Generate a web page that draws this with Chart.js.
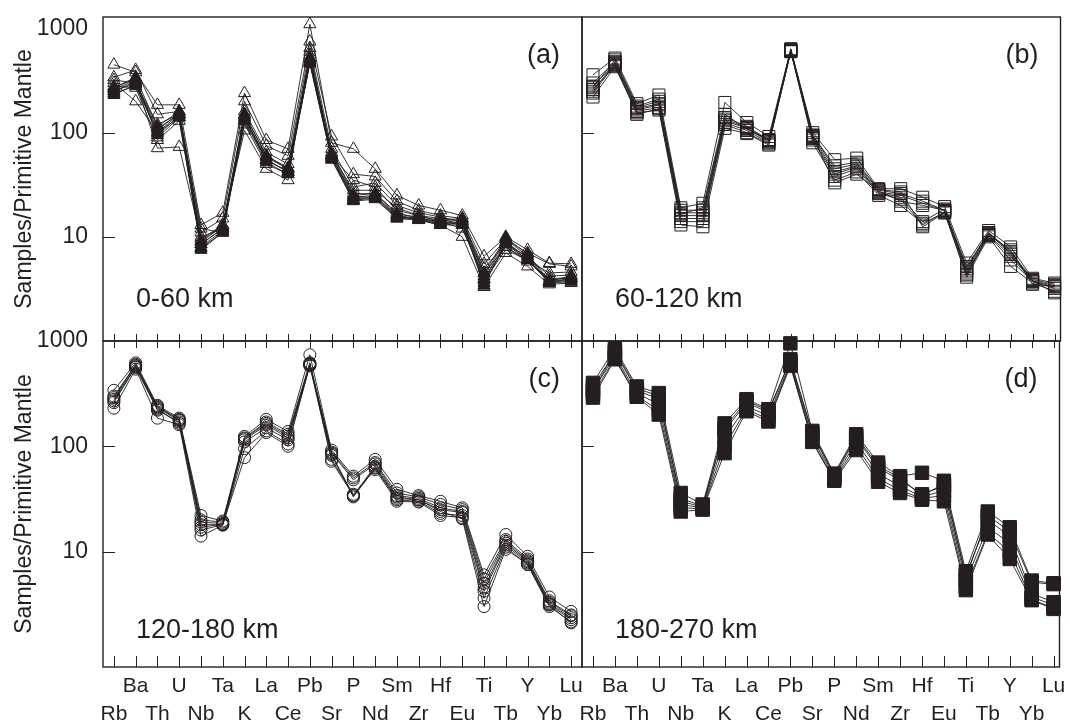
<!DOCTYPE html>
<html>
<head>
<meta charset="utf-8">
<title>Samples / Primitive Mantle spider diagrams</title>
<script src="https://cdn.jsdelivr.net/npm/chart.js@4.4.1/dist/chart.umd.min.js"></script>
<style>
  html, body { margin: 0; padding: 0; background: #fff; }
  #wrap { position: relative; width: 1070px; height: 725px; overflow: hidden; }
  #wrap canvas { position: absolute; left: 0; top: 0; }
</style>
</head>
<body>
<div id="wrap">
  <canvas id="panelA" width="1070" height="725"></canvas>
  <canvas id="panelB" width="1070" height="725"></canvas>
  <canvas id="panelC" width="1070" height="725"></canvas>
  <canvas id="panelD" width="1070" height="725"></canvas>
</div>
<script>
// --- Data (normalised to primitive mantle) ---
const ELEMENTS = ['Rb', 'Ba', 'Th', 'U', 'Nb', 'Ta', 'K', 'La', 'Ce', 'Pb', 'Sr',
                  'P', 'Nd', 'Sm', 'Zr', 'Hf', 'Eu', 'Ti', 'Tb', 'Y', 'Yb', 'Lu'];
const Y_TICKS = [10, 100, 1000];
const Y_TICK_MARKS = [10, 100];
const DEPTHS = ['0-60 km', '60-120 km', '120-180 km', '180-270 km'];
const TAGS = ['(a)', '(b)', '(c)', '(d)'];

// (a) 0-60 km, open triangles
const depth0_60_open = [
    [450, 380, 185, 185, 13, 17, 240, 85, 70, 1100, 80, 70, 45, 25, 20, 18, 16, 6.5, 10, 7.5, 5.6, 5.5],
    [340, 400, 150, 160, 11, 15, 200, 75, 60, 750, 92, 40, 38, 22, 18, 16, 15, 5.5, 9.5, 7, 5.5, 5.2],
    [300, 200, 100, 150, 9, 13, 105, 45, 35, 600, 60, 35, 30, 18, 16, 15, 13, 4.5, 8, 6, 4.5, 4.6],
    [270, 330, 90, 140, 10, 12, 160, 65, 50, 650, 70, 30, 33, 20, 17, 15.5, 14, 5, 8.5, 6.5, 4.2, 4.3],
    [320, 300, 120, 150, 12, 11, 130, 55, 42, 520, 65, 26, 26, 17, 15, 14, 12, 4, 8, 5.8, 4, 4],
    [280, 270, 85, 130, 8.5, 12, 120, 50, 40, 480, 58, 24, 24, 16, 14.5, 13, 10, 3.3, 7, 5.2, 3.5, 3.6],
    [250, 310, 71, 73, 9.5, 13, 150, 60, 45, 560, 62, 28, 28, 19, 16, 14, 13, 3.8, 7.5, 6, 3.8, 4.2]
];
// (a) 0-60 km, filled triangles
const depth0_60_filled = [
    [240, 280, 100, 140, 7.5, 11, 130, 52, 40, 460, 55, 22, 23, 15, 14.5, 13, 13, 3.6, 8.5, 6, 3.7, 3.8],
    [250, 300, 110, 150, 8, 11.5, 140, 55, 42, 480, 58, 23, 24, 15.5, 15, 13.5, 14, 3.9, 9, 6.2, 3.7, 3.9],
    [260, 320, 95, 145, 8.5, 12, 135, 58, 45, 500, 60, 24, 25, 16, 15, 14, 14.5, 4.2, 9.5, 6.5, 3.7, 4],
    [230, 290, 105, 155, 7.8, 11, 145, 54, 43, 470, 56, 22.5, 23.5, 15, 14.8, 13.2, 13.5, 3.4, 8.8, 6, 3.6, 3.7],
    [270, 340, 115, 160, 9, 12.5, 150, 60, 46, 520, 62, 25, 26, 16.5, 15.5, 14.5, 15, 4.5, 9.8, 6.8, 3.8, 4.1]
];
// (b) 60-120 km, open squares
const depth60_120 = [
    [360, 520, 190, 230, 19, 21, 195, 125, 92, 640, 100, 55, 57, 29, 29, 24, 19.5, 5.6, 11.5, 8, 4, 3.6],
    [300, 480, 175, 200, 18, 18, 140, 115, 85, 620, 95, 45, 50, 28, 26, 22, 18, 5, 11, 7.2, 3.9, 3.5],
    [280, 460, 165, 185, 16, 16, 130, 110, 82, 610, 92, 42, 48, 27, 25, 21, 18, 4.8, 10.8, 7, 3.8, 3.4],
    [260, 440, 160, 175, 15, 15, 125, 105, 80, 600, 88, 40, 47, 26.5, 24, 14, 18.5, 4.6, 10.5, 6.5, 3.75, 3.3],
    [240, 450, 150, 170, 14, 14, 120, 100, 78, 600, 85, 38, 45, 26, 23, 13, 17.5, 4.4, 10.3, 6, 3.7, 3.2],
    [220, 430, 155, 165, 13, 12.5, 110, 98, 76, 610, 80, 35, 42, 25, 20, 13.5, 17, 4.1, 10, 5.2, 3.6, 3.0],
    [250, 470, 170, 190, 17, 17, 135, 112, 84, 630, 90, 33, 40, 27.5, 22, 20, 18, 5.2, 11, 6.8, 3.8, 2.9],
    [270, 500, 180, 210, 16.5, 19, 150, 108, 86, 620, 94, 48, 52, 28.5, 27, 12.5, 17, 4.3, 10.6, 7.5, 3.5, 3.35]
];
// (c) 120-180 km, open circles
const depth120_180 = [
    [340, 620, 245, 185, 22, 19.5, 124, 180, 138, 740, 92, 52, 75, 39, 34, 30, 26, 6, 14.5, 9, 3.7, 2.7],
    [290, 600, 235, 180, 20, 19, 120, 170, 130, 620, 88, 50, 70, 36, 33, 28, 25, 5.5, 13, 8.5, 3.4, 2.5],
    [280, 580, 230, 175, 19, 18.5, 118, 165, 125, 600, 86, 48, 68, 34, 32, 26, 24, 5, 12.5, 8.2, 3.3, 2.45],
    [270, 560, 220, 170, 18, 18, 115, 160, 120, 590, 84, 34, 65, 33, 31, 25, 23.5, 4.5, 12, 8, 3.2, 2.35],
    [300, 590, 240, 178, 17, 18.2, 110, 150, 115, 610, 82, 33, 62, 31, 30, 23, 22, 4.2, 11.5, 7.8, 3.15, 2.25],
    [230, 540, 185, 160, 14, 17.8, 95, 140, 105, 580, 75, 35, 60, 30, 29.5, 22, 21, 3.6, 11, 7.5, 3.0, 2.15],
    [260, 570, 225, 165, 16, 18, 78, 135, 100, 600, 72, 34, 63, 32, 31, 24, 20.5, 3.0, 10.5, 7.6, 3.1, 2.1]
];
// (d) 180-270 km, filled squares
const depth180_270 = [
    [400, 850, 370, 320, 36, 28, 165, 280, 225, 950, 140, 55, 130, 70, 52, 56, 47, 6.5, 24, 17, 5.3, 5.0],
    [370, 780, 340, 280, 32, 27, 140, 260, 210, 670, 130, 52, 120, 62, 48, 35, 42, 6, 20, 14, 4.0, 3.3],
    [340, 720, 320, 250, 28, 26, 120, 240, 195, 620, 120, 50, 110, 55, 42, 33, 38, 5.2, 17, 12, 3.7, 3.1],
    [310, 690, 300, 220, 26, 25.5, 100, 225, 180, 600, 112, 48, 100, 50, 38, 32, 34, 4.6, 15, 10, 3.5, 2.9],
    [290, 670, 295, 200, 24, 25, 86, 215, 172, 580, 110, 47, 92, 46, 36, 31, 30, 4.3, 14.5, 8.5, 3.45, 2.85],
    [330, 800, 355, 300, 30, 26.5, 150, 270, 218, 650, 135, 54, 125, 65, 50, 34, 44, 5.6, 22, 15.5, 5.1, 4.9]
];

// --- Styling ---
const INK = '#231f20';
const FONT = '"Liberation Sans", Arial, Helvetica, sans-serif';

function seriesSet(rows, style, radius, filled) {
    return rows.map(row => ({
        data: row.map((v, i) => ({ x: i, y: v })),
        borderColor: INK,
        borderWidth: 0.9,
        pointStyle: style,
        pointRadius: radius,
        pointBorderColor: INK,
        pointBorderWidth: 1,
        pointBackgroundColor: filled ? INK : 'rgba(0,0,0,0)',
        tension: 0,
        fill: false,
        clip: false
    }));
}

// frame, inward tick marks and panel captions
const framePlugin = {
    id: 'spiderFrame',
    beforeDatasetsDraw(chart, args, opts) {
        const { ctx, chartArea: a, scales } = chart;
        ctx.save();
        ctx.strokeStyle = INK;
        ctx.lineWidth = 1.4;
        ctx.strokeRect(a.left, a.top, a.right - a.left, a.bottom - a.top);

        ctx.lineWidth = 1;
        ctx.beginPath();
        Y_TICK_MARKS.forEach(v => {
            const y = Math.round(scales.y.getPixelForValue(v)) + 0.5;
            ctx.moveTo(a.left, y);
            ctx.lineTo(a.left + 12, y);
        });
        ELEMENTS.forEach((_, i) => {
            const x = Math.round(scales.x.getPixelForValue(i)) + 0.5;
            ctx.moveTo(x, a.bottom);
            ctx.lineTo(x, a.bottom - opts.bottomTick);
            if (opts.topTick) {
                ctx.moveTo(x, a.top);
                ctx.lineTo(x, a.top + opts.topTick);
            }
        });
        ctx.stroke();

        ctx.fillStyle = INK;
        ctx.font = '27px ' + FONT;
        ctx.textBaseline = 'alphabetic';
        ctx.textAlign = 'left';
        ctx.fillText(opts.depth, a.left + 33, a.bottom - opts.depthLift);
        ctx.textAlign = 'right';
        ctx.fillText(opts.tag, a.right - 22, a.top + 46);
        ctx.restore();
    }
};

function makePanel(id, cfg) {
    const xScale = {
        type: 'linear',
        display: cfg.showX,
        min: -0.5,
        max: cfg.xMax,
        grid: { display: false, drawTicks: false },
        border: { display: false },
        afterBuildTicks: s => { s.ticks = ELEMENTS.map((_, i) => ({ value: i })); },
        afterFit: s => {
            s.height = cfg.showX ? 58 : 0;
            s.paddingLeft = 0;
            s.paddingRight = 0;
        },
        ticks: {
            autoSkip: false,
            maxRotation: 0,
            padding: 6,
            color: INK,
            font: { family: FONT, size: 21, lineHeight: 1.3 },
            callback: v => (v % 2 === 0 ? ['', ELEMENTS[v]] : [ELEMENTS[v], ''])
        }
    };
    const yScale = {
        type: 'logarithmic',
        display: cfg.showY,
        min: cfg.yMin,
        max: cfg.yMax,
        grid: { display: false, drawTicks: false },
        border: { display: false },
        afterBuildTicks: s => { s.ticks = Y_TICKS.map(v => ({ value: v })); },
        afterFit: s => {
            s.width = cfg.showY ? 103 : 0;
            s.paddingTop = 0;
            s.paddingBottom = 0;
        },
        ticks: {
            padding: 15,
            color: INK,
            font: { family: FONT, size: 23 },
            callback: v => String(v)
        },
        title: {
            display: true,
            text: 'Samples/Primitive Mantle',
            color: INK,
            font: { family: FONT, size: 23 },
            padding: { top: 11, bottom: 0 }
        }
    };

    return new Chart(document.getElementById(id), {
        type: 'line',
        data: { datasets: cfg.datasets },
        options: {
            responsive: false,
            devicePixelRatio: 1,
            animation: false,
            events: [],
            layout: { padding: cfg.pad },
            scales: { x: xScale, y: yScale },
            plugins: {
                legend: { display: false },
                tooltip: { enabled: false },
                spiderFrame: cfg.frame
            }
        },
        plugins: [framePlugin]
    });
}

makePanel('panelA', {
    datasets: seriesSet(depth0_60_open, 'triangle', 7, false)
        .concat(seriesSet(depth0_60_filled, 'triangle', 7, true)),
    pad: { left: 0, top: 17, right: 488, bottom: 384 },
    showX: false, showY: true, xMax: 21.5, yMin: 1, yMax: 1290,
    frame: { bottomTick: 7, topTick: 0, depth: DEPTHS[0], tag: TAGS[0], depthLift: 34 }
});

makePanel('panelB', {
    datasets: seriesSet(depth60_120, 'rect', 8.5, false),
    pad: { left: 582, top: 17, right: 8, bottom: 384 },
    showX: false, showY: false, xMax: 21.27, yMin: 1, yMax: 1290,
    frame: { bottomTick: 7, topTick: 0, depth: DEPTHS[1], tag: TAGS[1], depthLift: 34 }
});

makePanel('panelC', {
    datasets: seriesSet(depth120_180, 'circle', 6, false),
    pad: { left: 0, top: 341, right: 488, bottom: 0 },
    showX: true, showY: true, xMax: 21.5, yMin: 0.8, yMax: 1000,
    frame: { bottomTick: 11, topTick: 7, depth: DEPTHS[2], tag: TAGS[2], depthLift: 29 }
});

makePanel('panelD', {
    datasets: seriesSet(depth180_270, 'rect', 9.5, true),
    pad: { left: 582, top: 341, right: 8, bottom: 0 },
    showX: true, showY: false, xMax: 21.27, yMin: 0.8, yMax: 1000,
    frame: { bottomTick: 11, topTick: 7, depth: DEPTHS[3], tag: TAGS[3], depthLift: 29 }
});
</script>
</body>
</html>
